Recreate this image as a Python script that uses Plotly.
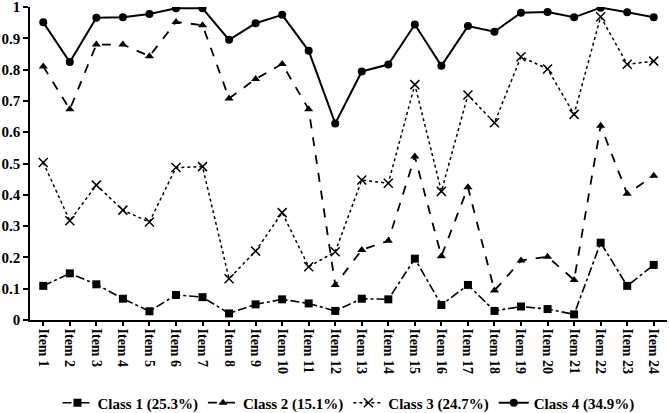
import plotly.graph_objects as go

items = [f"Item {i}" for i in range(1, 25)]

class1 = [0.109, 0.149, 0.114, 0.068, 0.028, 0.080, 0.073, 0.021, 0.050, 0.066, 0.053, 0.029,
          0.068, 0.066, 0.196, 0.048, 0.112, 0.029, 0.043, 0.035, 0.018, 0.247, 0.109, 0.176]
class2 = [0.810, 0.673, 0.880, 0.880, 0.843, 0.952, 0.942, 0.708, 0.770, 0.818, 0.673, 0.112,
          0.224, 0.253, 0.522, 0.204, 0.424, 0.094, 0.190, 0.202, 0.128, 0.621, 0.403, 0.461]
class3 = [0.503, 0.317, 0.431, 0.351, 0.313, 0.487, 0.490, 0.132, 0.220, 0.343, 0.170, 0.218,
          0.447, 0.437, 0.752, 0.411, 0.719, 0.630, 0.841, 0.802, 0.657, 0.969, 0.817, 0.827]
class4 = [0.951, 0.824, 0.966, 0.967, 0.978, 0.996, 0.996, 0.895, 0.948, 0.975, 0.860, 0.628,
          0.794, 0.816, 0.944, 0.812, 0.939, 0.921, 0.982, 0.984, 0.967, 0.998, 0.983, 0.967]

names = ["Class 1 (25.3%)", "Class 2 (15.1%)", "Class 3 (24.7%)", "Class 4 (34.9%)"]
y_ticks = [0, 0.1, 0.2, 0.3, 0.4, 0.5, 0.6, 0.7, 0.8, 0.9, 1]
y_tick_text = ["0", "0.1", "0.2", "0.3", "0.4", "0.5", "0.6", "0.7", "0.8", "0.9", "1"]

FONT = "Liberation Serif"

fig = go.Figure()
fig.add_trace(go.Scatter(x=items, y=class1, name=names[0], mode="lines+markers",
                         line=dict(color="black", width=1.6, dash="dashdot"),
                         marker=dict(symbol="square", size=8, color="black")))
fig.add_trace(go.Scatter(x=items, y=class2, name=names[1], mode="lines+markers",
                         line=dict(color="black", width=1.8, dash="dash"),
                         marker=dict(symbol="triangle-up", size=8, color="black")))
fig.add_trace(go.Scatter(x=items, y=class3, name=names[2], mode="lines+markers",
                         line=dict(color="black", width=1.5, dash="dot"),
                         marker=dict(symbol="x-thin", size=9, color="black",
                                     line=dict(color="black", width=1.5))))
fig.add_trace(go.Scatter(x=items, y=class4, name=names[3], mode="lines+markers",
                         line=dict(color="black", width=2),
                         marker=dict(symbol="circle", size=8, color="black")))

fig.update_layout(
    width=669, height=413,
    margin=dict(l=30, r=2, t=7, b=93, autoexpand=False),
    paper_bgcolor="white", plot_bgcolor="white",
    font=dict(family=FONT, size=14, color="black"),
    showlegend=True,
    legend=dict(orientation="h", x=0.5, xanchor="center", y=-0.265, yanchor="middle",
                font=dict(family=FONT, size=15, color="black", weight="bold"),
                itemwidth=30, tracegroupgap=0),
    xaxis=dict(range=[-0.5, 23.5], showline=True, linecolor="black", linewidth=1.5,
               ticks="outside", ticklen=4, tickcolor="black", tickwidth=1.5,
               tickangle=90, showgrid=False, zeroline=False,
               tickfont=dict(family=FONT, size=14, color="black", weight="bold")),
    yaxis=dict(range=[0, 1], tickvals=y_ticks, ticktext=y_tick_text,
               showline=True, linecolor="black", linewidth=1.5,
               ticks="outside", ticklen=5, tickcolor="black", tickwidth=1.5,
               ticklabeloverflow="allow",
               showgrid=False, zeroline=False,
               tickfont=dict(family=FONT, size=15, color="black", weight="bold")),
)

fig.write_html("out.html")
